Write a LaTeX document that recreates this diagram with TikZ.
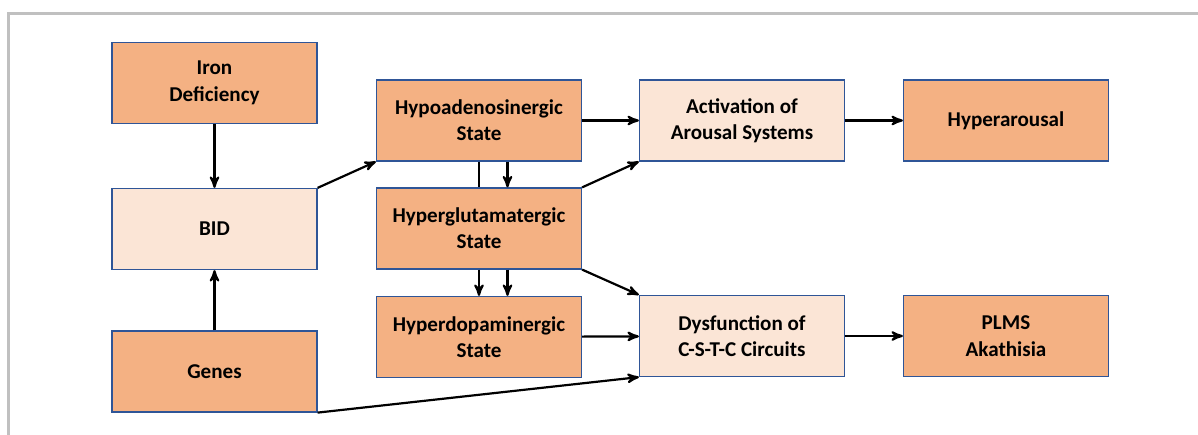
\documentclass[tikz,border=0pt]{standalone}
\usepackage{fontspec}
\setmainfont{Carlito}
\usepackage{xcolor}
\usepackage{tikz}
\usetikzlibrary{positioning}
\usetikzlibrary{shapes,arrows}
\definecolor{boxorange}{RGB}{244,177,131}
\definecolor{boxlight}{RGB}{251,229,214}
\definecolor{boxedge}{RGB}{47,85,151}
\definecolor{framegray}{RGB}{192,192,192}
\tikzset{%
  block/.style      = {draw=boxedge, line width=0.7pt, rectangle, fill=boxorange,
    minimum height = 1.62cm, minimum width = 4.1cm, align=center,
    font=\fontsize{12}{15}\selectfont\bfseries},
  lightblock/.style = {block, fill=boxlight}, % pale boxes
  conn/.style       = {line width=1.25pt}
}

\begin{document}
\begin{tikzpicture}[auto, thick, node distance=2.3cm, >=stealth']
	\useasboundingbox (0,0) rectangle (23.96,-8.7);
	% frame
	\draw[framegray, line width=0.06cm] (0.16,-8.7) -- (0.16,-0.27) -- (23.96,-0.27);

	\draw node at (4.29,-1.66) [block] (iron) {Iron\\Deficiency};
	\draw node [lightblock, below of=iron, node distance = 2.92cm] (bid) {BID};
	\draw node [block, below of=bid, node distance = 2.85cm] (genes) {Genes};

	\draw node at (9.58,-2.41) [block] (hypo) {Hypoadenosinergic\\State};
	\draw node [block, below of=hypo, node distance = 2.16cm] (glut) {Hyperglutamatergic\\State};
	\draw node [block, below of=glut, node distance = 2.17cm] (dopa) {Hyperdopaminergic\\State};

	\draw node [lightblock, right of=hypo, node distance = 5.26cm] (activ) {Activation of\\Arousal Systems};
	\draw node [block, right of=activ, node distance = 5.28cm] (hyperar) {Hyperarousal};

	\draw node at (14.84,-6.72) [lightblock] (dysf) {Dysfunction of\\C-S-T-C Circuits};
	\draw node [block, right of=dysf, node distance = 5.28cm] (plms) {PLMS\\Akathisia};

	\draw[->, conn] (iron) -- (bid);
	\draw[->, conn] (genes) -- (bid);
	\draw[->, conn] (bid.north east) -- (hypo.south west);

	\draw[->, conn] (hypo) -- (activ);
	\draw[->, conn] (activ) -- (hyperar);
	\draw[conn] (hypo.south) -- (glut.north);
	\draw[->, conn] ([xshift=0.57cm]hypo.south) -- ([xshift=0.57cm]glut.north);
	\draw[->, conn] (glut.south) -- (dopa.north);
	\draw[->, conn] ([xshift=0.57cm]glut.south) -- ([xshift=0.57cm]dopa.north);

	\draw[->, conn] (glut.north east) -- (activ.south west);
	\draw[->, conn] (glut.south east) -- (dysf.north west);
	\draw[->, conn] (dopa) -- (dysf);
	\draw[->, conn] (genes.south east) -- (dysf.south west);
	\draw[->, conn] (dysf) -- (plms);

  \end{tikzpicture}
\end{document}
